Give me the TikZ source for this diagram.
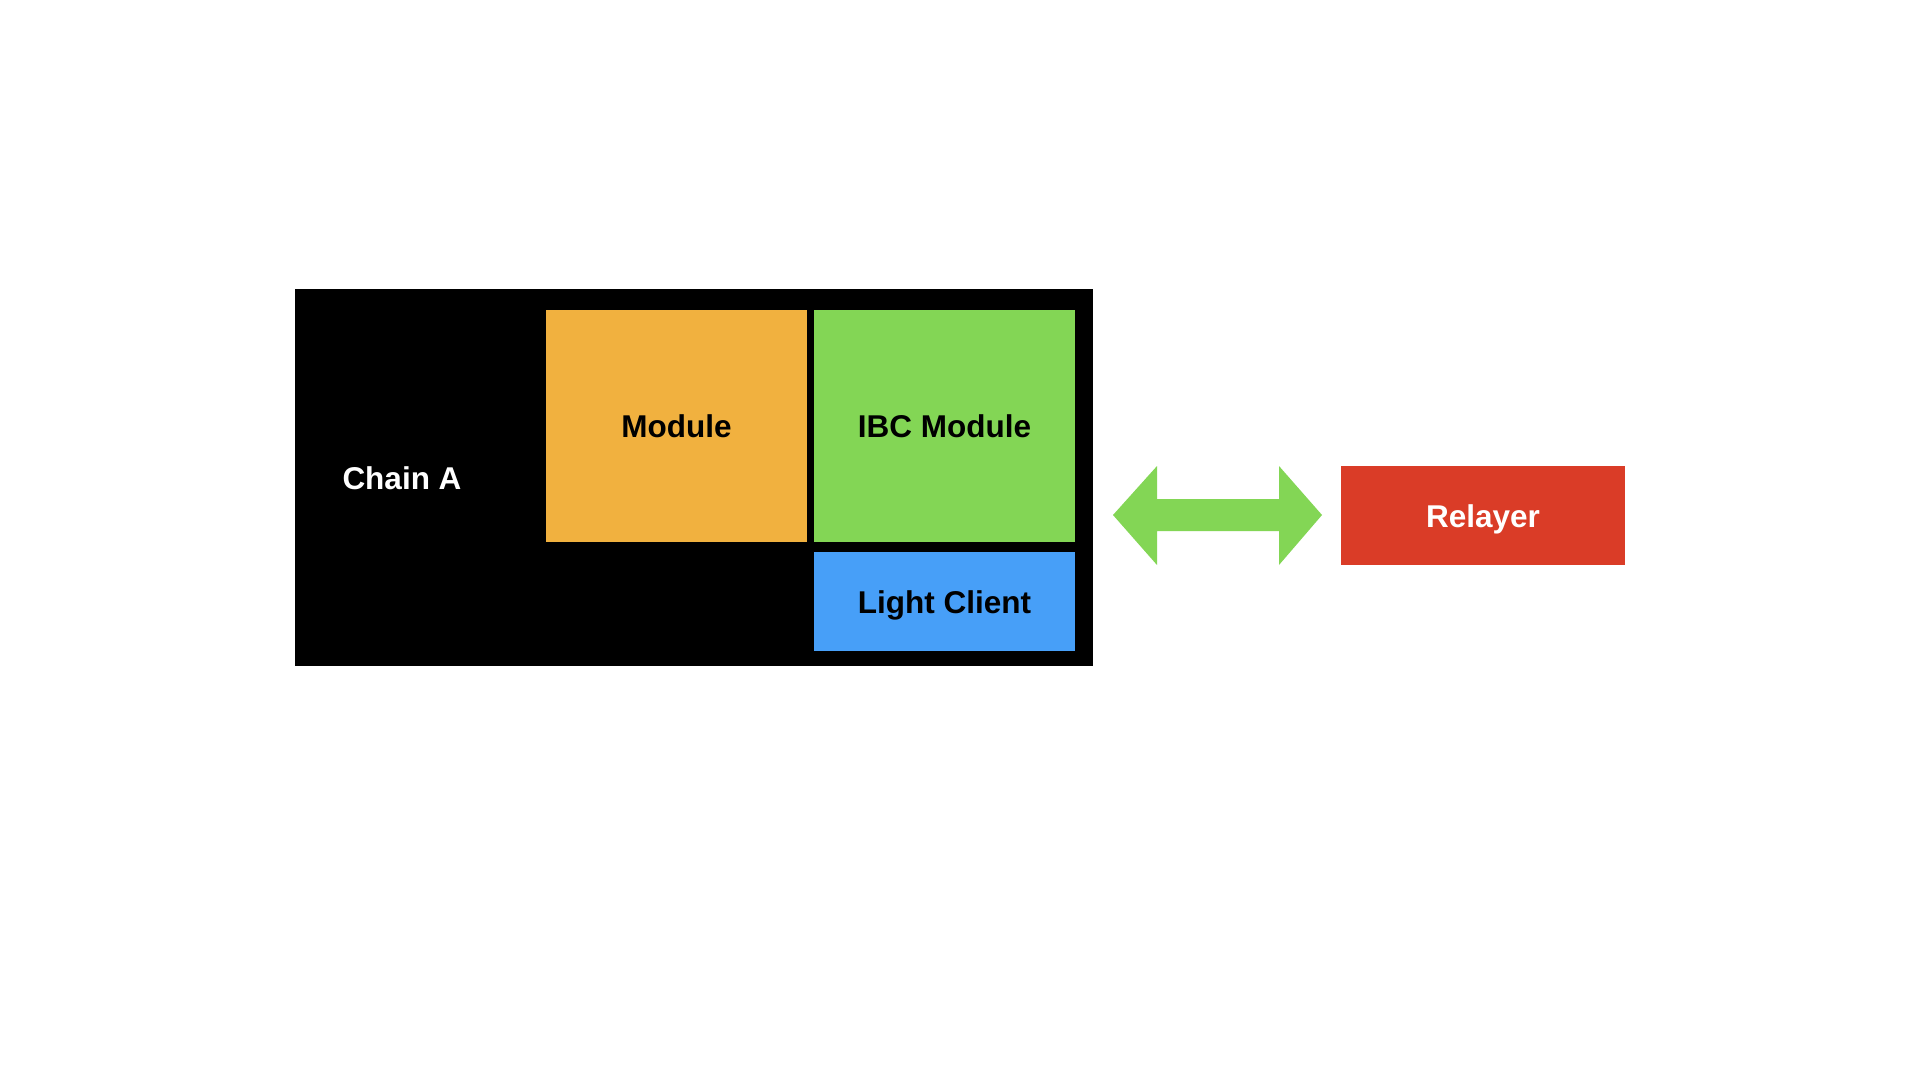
\documentclass[tikz,border=0pt]{standalone}
\usepackage{fontspec}
\setmainfont{Liberation Sans}
\definecolor{modorange}{HTML}{F1B13F}
\definecolor{ibcgreen}{HTML}{83D655}
\definecolor{lcblue}{HTML}{479FF8}
\definecolor{relred}{HTML}{DA3C27}
\begin{document}
\begin{tikzpicture}[x=1pt,y=-1pt,
  lbl/.style={inner sep=0pt, text depth=0pt, font=\fontsize{31.5}{37}\selectfont\bfseries}]
\useasboundingbox[fill=white] (0,0) rectangle (1920,1080);
% Chain A container
\fill[black] (295,289) rectangle (1093,666);
\node[lbl, text=white] (chain) at (402,478) {Chain A};
% Module
\fill[modorange] (546,310) rectangle (807,542);
\node[lbl] (module) at (676.5,426) {Module};
% IBC Module
\fill[ibcgreen] (814,310) rectangle (1075,542);
\node[lbl] (ibc) at (944.5,426) {IBC Module};
% Light Client
\fill[lcblue] (814,552) rectangle (1075,651);
\node[lbl] (lc) at (944.5,602) {Light Client};
% double arrow
\fill[ibcgreen] (1113,515) -- (1157,466) -- (1157,499) -- (1279,499) -- (1279,466)
  -- (1322,515) -- (1279,565) -- (1279,531) -- (1157,531) -- (1157,565) -- cycle;
% Relayer
\fill[relred] (1341,466) rectangle (1625,565);
\node[lbl, text=white] (relayer) at (1483,516) {Relayer};
\end{tikzpicture}
\end{document}
